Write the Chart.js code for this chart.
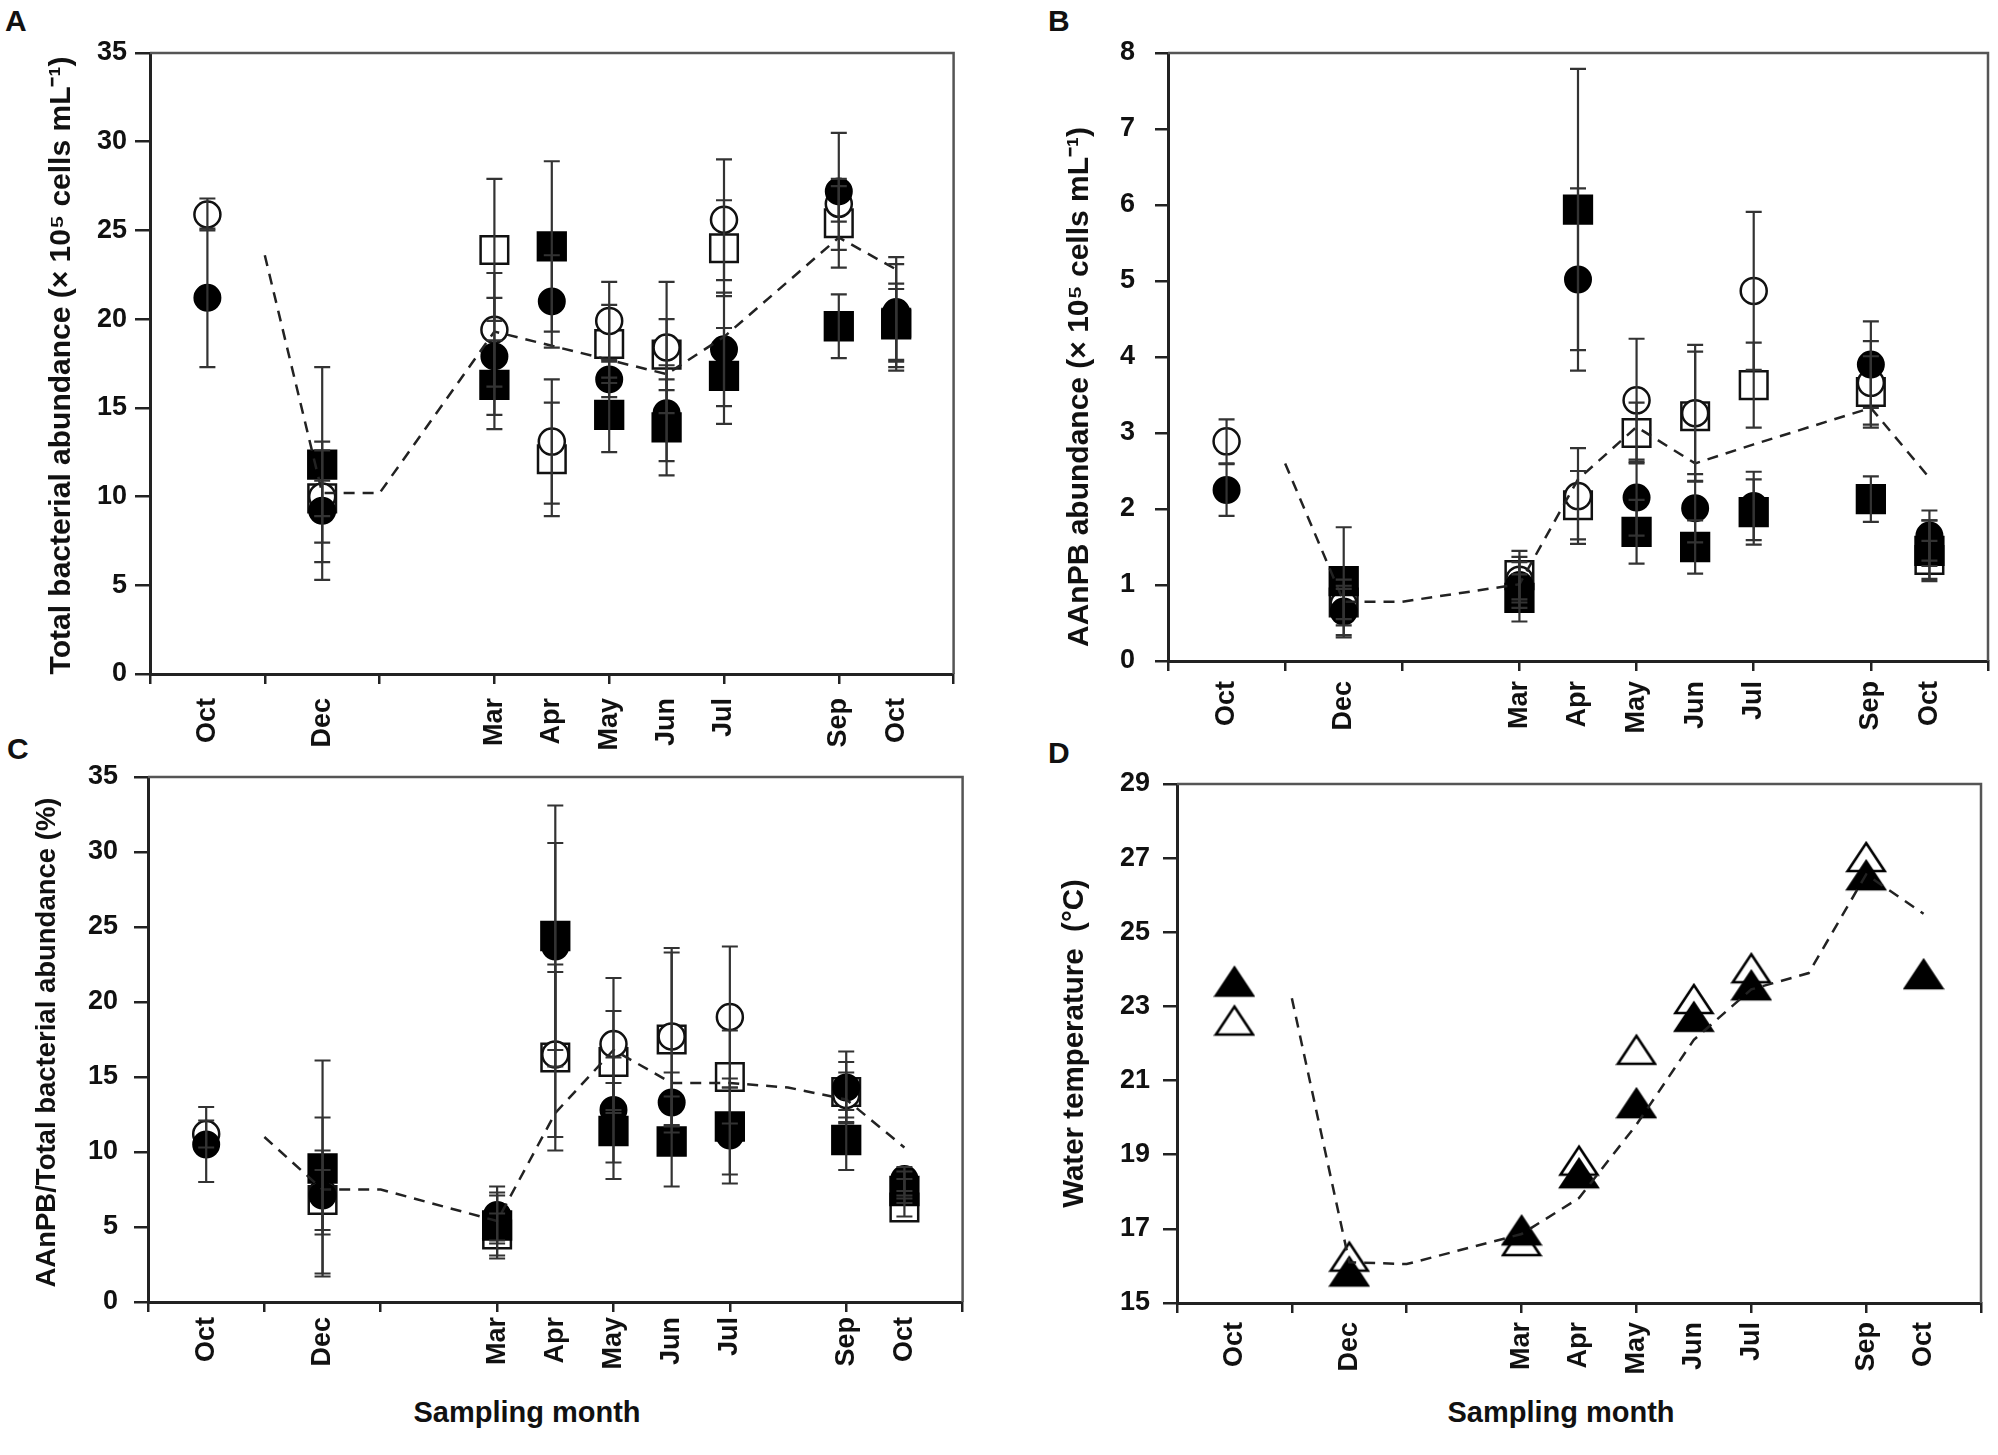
<!DOCTYPE html>
<html>
<head>
<meta charset="utf-8">
<script src="https://cdn.jsdelivr.net/npm/chart.js@4.4.1/dist/chart.umd.min.js"></script>
<style>
html,body{margin:0;padding:0;background:#fff;width:1998px;height:1455px;overflow:hidden;position:relative;}
canvas{position:absolute;}
.lbl{position:absolute;font-family:'Liberation Sans',Arial,sans-serif;font-weight:bold;color:#111;line-height:1;white-space:nowrap;}
</style>
</head>
<body>
<div class="lbl" style="left:5px;top:6px;font-size:30px">A</div>
<div class="lbl" style="left:1048px;top:6px;font-size:30px">B</div>
<div class="lbl" style="left:7px;top:734px;font-size:30px">C</div>
<div class="lbl" style="left:1048px;top:738px;font-size:30px">D</div>
<div class="lbl" style="left:377px;width:300px;text-align:center;top:1398px;font-size:29px">Sampling month</div>
<div class="lbl" style="left:1411px;width:300px;text-align:center;top:1398px;font-size:29px">Sampling month</div>

<canvas id="cA" width="1000" height="770" style="left:0px;top:0px;width:1000px;height:770px"></canvas>
<canvas id="cB" width="1040" height="770" style="left:1000px;top:0px;width:1040px;height:770px"></canvas>
<canvas id="cC" width="1000" height="715" style="left:0px;top:740px;width:1000px;height:715px"></canvas>
<canvas id="cD" width="1040" height="715" style="left:1000px;top:740px;width:1040px;height:715px"></canvas>

<script>
// ---------- shared x axis ----------
const monthLabels = ['Oct','Dec','Mar','Apr','May','Jun','Jul','Sep','Oct'];
const monthPos    = [1, 3, 6, 7, 8, 9, 10, 12, 13];
const tickMarkPos = [0, 2, 4, 6, 8, 10, 12, 14];

// ---------- Panel A: total bacterial abundance ----------
const totalYTicks = [0, 5, 10, 15, 20, 25, 30, 35];
const totalFilledCircle    = [21.2, 9.2, 17.9, 21.0, 16.6, 14.7, 18.3, 27.2, 20.4];
const totalFilledCircleErr = [3.9, 3.9, 3.3, 2.6, 1.0, 2.7, 3.2, 3.3, 3.1];
const totalFilledSquare    = [null, 11.8, 16.3, 24.1, 14.6, 13.9, 16.8, 19.6, 19.7];
const totalFilledSquareErr = [0, 5.5, 2.5, 4.8, 2.1, 2.7, 2.7, 1.8, 2.0];
const totalOpenCircle      = [25.9, 10.0, 19.4, 13.1, 19.9, 18.4, 25.6, 26.5, 20.1];
const totalOpenCircleErr   = [0.9, 2.6, 3.2, 3.5, 2.2, 3.7, 3.4, 1.0, 3.0];
const totalOpenSquare      = [null, 9.9, 23.9, 12.1, 18.6, 18.0, 24.0, 25.4, 19.8];
const totalOpenSquareErr   = [0, 1.0, 4.0, 3.2, 2.2, 2.0, 2.7, 2.5, 2.2];
const totalTrendX = [2, 3, 4, 6, 7, 8, 9, 10, 12, 13];
const totalTrendY = [23.6, 10.2, 10.2, 19.3, 18.5, 17.7, 16.9, 19.0, 24.6, 22.8];

// ---------- Panel B: AAnPB abundance ----------
const aapbYTicks = [0, 1, 2, 3, 4, 5, 6, 7, 8];
const aapbFilledCircle    = [2.25, 0.65, 1.00, 5.02, 2.15, 2.01, 2.04, 3.90, 1.65];
const aapbFilledCircleErr = [0.34, 0.34, 0.30, 1.20, 0.50, 0.45, 0.45, 0.57, 0.33];
const aapbFilledSquare    = [null, 1.05, 0.83, 5.94, 1.70, 1.50, 1.96, 2.13, 1.45];
const aapbFilledSquareErr = [0, 0.71, 0.31, 1.85, 0.42, 0.35, 0.43, 0.30, 0.40];
const aapbOpenCircle      = [2.89, 0.75, 1.07, 2.17, 3.43, 3.26, 4.87, 3.66, 1.55];
const aapbOpenCircleErr   = [0.29, 0.20, 0.30, 0.63, 0.81, 0.90, 1.04, 0.55, 0.30];
const aapbOpenSquare      = [null, 0.77, 1.13, 2.05, 3.00, 3.22, 3.63, 3.54, 1.33];
const aapbOpenSquareErr   = [0, 0.30, 0.32, 0.45, 0.40, 0.85, 0.56, 0.47, 0.25];
const aapbTrendX = [2, 3, 4, 6, 7, 8, 9, 10, 12, 13];
const aapbTrendY = [2.60, 0.78, 0.78, 1.01, 2.39, 3.08, 2.60, 2.85, 3.33, 2.41];

// ---------- Panel C: AAnPB / total (%) ----------
const ratioYTicks = [0, 5, 10, 15, 20, 25, 30, 35];
const ratioFilledCircle    = [10.5, 7.1, 5.8, 23.7, 12.8, 13.3, 11.1, 14.3, 8.2];
const ratioFilledCircleErr = [2.5, 5.2, 1.9, 6.9, 3.5, 2.0, 3.2, 2.4, 0.8];
const ratioFilledSquare    = [null, 8.9, 5.1, 24.4, 11.4, 10.7, 11.7, 10.8, 7.4];
const ratioFilledSquareErr = [0, 7.2, 2.2, 8.7, 3.2, 3.0, 3.2, 2.0, 0.8];
const ratioOpenCircle      = [11.2, 7.3, 5.6, 16.5, 17.2, 17.7, 19.0, 13.8, 7.9];
const ratioOpenCircleErr   = [0.9, 2.8, 1.5, 5.5, 4.4, 5.9, 4.7, 1.5, 0.8];
const ratioOpenSquare      = [null, 6.8, 4.5, 16.3, 16.0, 17.5, 15.0, 14.0, 6.3];
const ratioOpenSquareErr   = [0, 2.0, 1.4, 6.2, 3.4, 5.8, 3.1, 2.0, 0.6];
const ratioTrendX = [2, 3, 4, 6, 7, 8, 9, 10, 11, 12, 13];
const ratioTrendY = [11.0, 7.5, 7.5, 5.4, 12.6, 16.8, 14.6, 14.6, 14.3, 13.5, 10.3];

// ---------- Panel D: water temperature ----------
const tempYTicks = [15, 17, 19, 21, 23, 25, 27, 29];
const tempFilled = [23.67, 15.85, 16.96, 18.50, 20.39, 22.72, 23.57, 26.54, 23.87];
const tempOpen   = [22.62, 16.25, 16.67, 18.84, 21.83, 23.20, 24.03, 27.03, null];
const tempTrendX = [2, 3, 4, 6, 7, 8, 9, 10, 11, 12, 13];
const tempTrendY = [23.22, 16.10, 16.05, 16.86, 17.83, 19.81, 22.10, 23.46, 23.90, 26.56, 25.50];

// ---------- helpers ----------
const FONT = "'Liberation Sans', Arial, sans-serif";
Chart.defaults.font.family = FONT;
Chart.defaults.font.weight = 'bold';
Chart.defaults.color = '#111';

const xTickValues = Array.from(new Set(monthPos.concat(tickMarkPos))).sort((a,b)=>a-b);

function pts(vals, errs) {
  return monthPos.map((x, i) => ({x: x, y: vals[i], e: errs ? errs[i] : 0}))
                 .filter(p => p.y !== null && p.y !== undefined);
}
function line(xs, ys) { return xs.map((x, i) => ({x: x, y: ys[i]})); }

function triImg(filled) {
  const c = document.createElement('canvas');
  c.width = 42; c.height = 34;
  const g = c.getContext('2d');
  g.beginPath();
  g.moveTo(21, 3); g.lineTo(39.5, 31); g.lineTo(2.5, 31); g.closePath();
  g.fillStyle = filled ? '#000' : '#fff';
  g.fill();
  g.lineWidth = 2.6; g.strokeStyle = '#000'; g.lineJoin = 'miter';
  g.stroke();
  return c;
}

const errorBarPlugin = {
  id: 'errorBars',
  afterDatasetsDraw(chart) {
    const ctx = chart.ctx, xs = chart.scales.x, ys = chart.scales.y;
    ctx.save();
    ctx.strokeStyle = '#333';
    ctx.lineWidth = 2.2;
    chart.data.datasets.forEach(ds => {
      if (!ds.errorBars) return;
      ds.data.forEach(p => {
        if (!p.e) return;
        const x = xs.getPixelForValue(p.x);
        const yT = ys.getPixelForValue(p.y + p.e);
        const yB = ys.getPixelForValue(p.y - p.e);
        ctx.beginPath();
        ctx.moveTo(x, yT); ctx.lineTo(x, yB);
        ctx.moveTo(x - 8, yT); ctx.lineTo(x + 8, yT);
        ctx.moveTo(x - 8, yB); ctx.lineTo(x + 8, yB);
        ctx.stroke();
      });
    });
    ctx.restore();
  }
};

const framePlugin = {
  id: 'frame',
  afterDraw(chart) {
    const {left, top, right, bottom} = chart.chartArea;
    const ctx = chart.ctx;
    ctx.save();
    ctx.strokeStyle = '#555';
    ctx.lineWidth = 2.5;
    ctx.beginPath();
    ctx.moveTo(left, top); ctx.lineTo(right, top); ctx.lineTo(right, bottom);
    ctx.stroke();
    ctx.restore();
  }
};

// shifts the y-axis title along the axis (the reference title is not exactly centred)
const titleShiftPlugin = {
  id: 'titleShift',
  afterLayout(chart, args, opts) {
    const s = chart.scales.y;
    if (!s || s._titleShiftPatched) return;
    const dy = (opts && opts.dy) || 0;
    const orig = s.drawTitle;
    s.drawTitle = function() {
      this.ctx.save();
      this.ctx.translate(0, dy);
      orig.apply(this, arguments);
      this.ctx.restore();
    };
    s._titleShiftPatched = true;
  }
};

function trendDs(xs, ys) {
  return {data: line(xs, ys), showLine: true, borderColor: '#222', borderWidth: 2.5,
          borderDash: [11, 8], pointRadius: 0, fill: false, tension: 0};
}
function markerDs(vals, errs, style) {
  const d = {data: pts(vals, errs), showLine: false, errorBars: !!errs};
  if (style === 'fc') Object.assign(d, {pointStyle: 'circle', pointRadius: 13, pointBackgroundColor: '#000', pointBorderColor: '#000', pointBorderWidth: 2});
  if (style === 'oc') Object.assign(d, {pointStyle: 'circle', pointRadius: 13, pointBackgroundColor: '#fff', pointBorderColor: '#111', pointBorderWidth: 2.5});
  if (style === 'fs') Object.assign(d, {pointStyle: 'rect', pointRadius: 20, pointBackgroundColor: '#000', pointBorderColor: '#000', pointBorderWidth: 2});
  if (style === 'os') Object.assign(d, {pointStyle: 'rect', pointRadius: 19.5, pointBackgroundColor: '#fff', pointBorderColor: '#111', pointBorderWidth: 2.5});
  if (style === 'ft') Object.assign(d, {pointStyle: triImg(true), pointRadius: 15});
  if (style === 'ot') Object.assign(d, {pointStyle: triImg(false), pointRadius: 15});
  d.pointHoverRadius = d.pointRadius;
  return d;
}

function makeChart(id, o) {
  return new Chart(document.getElementById(id), {
    type: 'scatter',
    data: {datasets: o.datasets},
    options: {
      responsive: false, devicePixelRatio: 1, animation: false, events: [],
      layout: {padding: o.padding},
      plugins: {legend: {display: false}, tooltip: {enabled: false}, titleShift: {dy: o.titleDy || 0}},
      scales: {
        x: {
          type: 'linear', min: 0, max: 14, offset: false,
          afterBuildTicks: s => { s.ticks = xTickValues.map(v => ({value: v})); },
          afterFit: s => { s.height = 80; },
          ticks: {
            autoSkip: false, minRotation: 90, maxRotation: 90, padding: o.xLabelPad,
            font: {size: 27, weight: 'bold'}, color: '#111',
            callback: v => { const i = monthPos.indexOf(v); return i >= 0 ? monthLabels[i] : ''; }
          },
          grid: {drawOnChartArea: false, drawTicks: true, tickLength: 10, lineWidth: 2.5,
                 color: c => (c.tick && tickMarkPos.includes(c.tick.value)) ? '#222' : 'rgba(0,0,0,0)'},
          border: {display: true, color: '#222', width: 3}
        },
        y: {
          type: 'linear', min: o.yTicks[0], max: o.yTicks[o.yTicks.length - 1],
          afterBuildTicks: s => { s.ticks = o.yTicks.map(v => ({value: v})); },
          afterFit: s => { s.width = o.yW; },
          ticks: {padding: o.yTickPad, font: {size: 27, weight: 'bold'}, color: '#111'},
          grid: {drawOnChartArea: false, drawTicks: true, tickLength: o.yTickLen, lineWidth: 2.5, color: '#222'},
          border: {display: true, color: '#222', width: 3},
          title: {display: true, text: o.yTitle, padding: 0, color: '#111', font: {size: o.titleSize, weight: 'bold'}}
        }
      }
    },
    plugins: [errorBarPlugin, framePlugin, titleShiftPlugin]
  });
}

makeChart('cA', {
  padding: {left: 44, top: 53, right: 23, bottom: 16}, yW: 106, yTickLen: 15, yTickPad: 8, xLabelPad: 14,
  yTicks: totalYTicks, yTitle: 'Total bacterial abundance (× 10⁵ cells mL⁻¹)', titleSize: 30, titleDy: 2,
  datasets: [
    trendDs(totalTrendX, totalTrendY),
    markerDs(totalFilledCircle, totalFilledCircleErr, 'fc'),
    markerDs(totalFilledSquare, totalFilledSquareErr, 'fs'),
    markerDs(totalOpenCircle, totalOpenCircleErr, 'oc'),
    markerDs(totalOpenSquare, totalOpenSquareErr, 'os')
  ]
});

makeChart('cB', {
  padding: {left: 62, top: 53, right: 52, bottom: 29}, yW: 106, yTickLen: 13, yTickPad: 20, xLabelPad: 10,
  yTicks: aapbYTicks, yTitle: 'AAnPB abundance (× 10⁵ cells mL⁻¹)', titleSize: 30, titleDy: 30,
  datasets: [
    trendDs(aapbTrendX, aapbTrendY),
    markerDs(aapbFilledCircle, aapbFilledCircleErr, 'fc'),
    markerDs(aapbFilledSquare, aapbFilledSquareErr, 'fs'),
    markerDs(aapbOpenCircle, aapbOpenCircleErr, 'oc'),
    markerDs(aapbOpenSquare, aapbOpenSquareErr, 'os')
  ]
});

makeChart('cC', {
  padding: {left: 31, top: 37, right: 23, bottom: 73}, yW: 117, yTickLen: 14, yTickPad: 16, xLabelPad: 5,
  yTicks: ratioYTicks, yTitle: 'AAnPB/Total bacterial abundance (%)', titleSize: 27.5, titleDy: 3,
  datasets: [
    trendDs(ratioTrendX, ratioTrendY),
    markerDs(ratioFilledCircle, ratioFilledCircleErr, 'fc'),
    markerDs(ratioFilledSquare, ratioFilledSquareErr, 'fs'),
    markerDs(ratioOpenCircle, ratioOpenCircleErr, 'oc'),
    markerDs(ratioOpenSquare, ratioOpenSquareErr, 'os')
  ]
});

makeChart('cD', {
  padding: {left: 57, top: 44, right: 59, bottom: 72}, yW: 120, yTickLen: 14, yTickPad: 13, xLabelPad: 9,
  yTicks: tempYTicks, yTitle: 'Water temperature  (°C)', titleSize: 29.5, titleDy: 0,
  datasets: [
    trendDs(tempTrendX, tempTrendY),
    markerDs(tempFilled, null, 'ft'),
    markerDs(tempOpen, null, 'ot')
  ]
});
</script>
</body>
</html>
